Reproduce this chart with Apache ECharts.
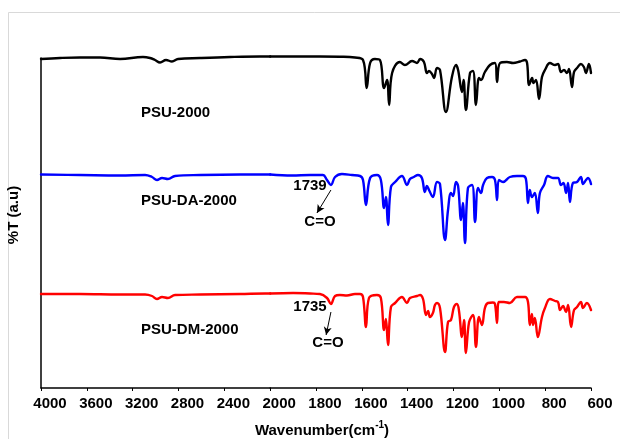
<!DOCTYPE html>
<html>
<head>
<meta charset="utf-8">
<script src="https://cdn.jsdelivr.net/npm/echarts@6/dist/echarts.min.js"></script>
<style>html,body{margin:0;padding:0;background:#fff}#c{width:620px;height:439px}</style>
</head>
<body>
<div id="c"></div>
<script>
// Wavenumber (cm-1) ticks: 4000-2000 step 400, 2000-600 step 200 (broken scale)
const ticksHigh = [4000, 3600, 3200, 2800, 2400, 2000];
const ticksLow = [2000, 1800, 1600, 1400, 1200, 1000, 800, 600];

// [wavenumber, %T (a.u.)]
const psu2000 = [
[4000,329],[3834,330],[3660,330.5],[3485,330.5],[3310,329],[3110,331],[3049,330],[3005,328],[2961,325.5],[2909,328],[2857,326.5],[2804,329],[2612,330],[2350,331],[2089,331.5],[2000,331.5],
[1914,331.5],[1783,331.5],[1696,331.3],[1630,330.5],[1595,328],[1579,300],[1564,325],[1543,329],[1521,328],[1503,300],[1490,308],[1481,283],[1468,315],[1434,326],[1412,323],[1381,327],[1359,325],[1346,329],[1329,326],[1316,315],[1307,317],[1294,314],[1285,310],[1272,320],[1259,318],[1233,276],[1207,311],[1189,323],[1180,318],[1163,296],[1156,308],[1146,278],[1128,315],[1115,317],[1102,283],[1089,310],[1080,308],[1063,316],[1041,323],[1019,325],[1010,306],[997,325],[967,326],[940,325],[910,326.5],[888,328],[879,325],[870,303],[857,310],[851,305],[840,308],[827,289],[814,311],[801,318],[779,325],[757,323],[744,324],[731,316],[718,318],[705,315],[696,319],[683,301],[674,316],[661,320],[644,324],[631,321],[622,315],[609,324],[600,315]
];
const psuDa2000 = [
[4000,213.5],[3660,213],[3310,212.5],[3092,213],[3031,211],[2988,208],[2944,210],[2892,209],[2830,212],[2612,213],[2263,213.5],[2045,213.5],[2000,213.5],
[1905,212.5],[1826,213],[1770,213],[1752,208],[1735,203],[1717,211],[1687,214],[1643,213],[1608,212],[1595,208],[1582,183],[1564,210],[1534,213],[1517,208],[1503,180],[1495,191],[1486,163],[1473,201],[1455,206],[1425,212],[1403,203],[1390,209],[1373,211],[1355,213],[1338,210],[1325,196],[1316,202],[1307,198],[1290,191],[1272,206],[1259,204],[1237,148],[1224,178],[1211,195],[1202,192],[1189,206],[1180,202],[1167,168],[1159,185],[1150,145],[1137,200],[1119,203],[1106,166],[1093,200],[1080,195],[1071,203],[1054,210],[1032,211],[1019,208],[1010,188],[1002,208],[984,206],[954,211],[923,212],[897,212],[884,209],[875,185],[867,198],[858,191],[845,195],[832,175],[823,195],[805,203],[788,212],[766,210],[744,210],[731,203],[720,205],[709,195],[700,205],[692,186],[679,205],[661,206],[644,211],[635,204],[622,208],[613,210],[600,204]
];
const psuDm2000 = [
[4000,94],[3660,94],[3310,93.5],[3092,93.5],[3031,92],[2988,89],[2944,91],[2892,90],[2830,93],[2612,93.5],[2263,94],[2045,94.5],[2000,94.5],
[1900,95],[1826,94.5],[1783,94],[1752,90],[1735,84],[1717,92],[1696,93],[1665,92.5],[1630,94],[1608,94],[1595,91],[1582,61],[1569,90],[1534,93],[1517,90],[1503,58],[1495,69],[1486,43],[1473,81],[1455,85],[1425,91],[1403,85],[1390,90],[1359,92],[1346,93],[1333,89],[1320,73],[1311,77],[1303,71],[1290,75],[1281,83],[1272,85],[1259,80],[1237,36],[1224,66],[1211,68],[1198,81],[1185,84],[1176,77],[1163,51],[1154,68],[1146,35],[1132,66],[1115,73],[1102,41],[1089,71],[1076,63],[1063,80],[1050,85],[1028,85.5],[1019,84],[1010,65],[1002,86],[980,86],[954,85],[923,91],[888,91],[875,86],[867,63],[858,74],[853,63],[845,70],[832,51],[814,71],[801,80],[779,89],[757,87],[744,86],[735,78],[722,82],[709,76],[700,83],[687,61],[674,78],[661,81],[644,86],[635,80],[618,85],[600,78]
];
const seriesNames = ['PSU-2000', 'PSU-DA-2000', 'PSU-DM-2000'];
const seriesColors = ['#000000', '#0000ff', '#ff0000'];
// carbonyl annotations: [peak wavenumber, arrow start value, arrow end wavenumber, arrow end value]
const daArrow = [1735, 198, 1796, 175];
const dmArrow = [1735, 76, 1756, 53];

const FONT = 'Arial, "Liberation Sans", sans-serif';
const chart = echarts.init(document.getElementById('c'));

const spectra = [psu2000, psuDa2000, psuDm2000];
const series = [];
spectra.forEach((d, i) => {
  const base = {type:'line', showSymbol:false, smooth:0.4, clip:false, silent:true,
    lineStyle:{color:seriesColors[i], width:2.4, join:'round', cap:'round'}, itemStyle:{color:seriesColors[i]}, name:seriesNames[i]};
  series.push(Object.assign({}, base, {xAxisIndex:0, yAxisIndex:0, data:d.filter(p => p[0] >= 2000)}));
  const right = Object.assign({}, base, {xAxisIndex:1, yAxisIndex:1, data:d.filter(p => p[0] <= 2000)});
  const arr = i === 1 ? daArrow : (i === 2 ? dmArrow : null);
  if (arr) {
    right.markLine = {silent:true, symbol:['none','arrow'], symbolSize:[6,8], label:{show:false},
      lineStyle:{color:'#000', width:1, type:'solid'},
      data:[[{coord:[arr[0], arr[1]]}, {coord:[arr[2], arr[3]]}]]};
  }
  series.push(right);
});

const axisCommon = {
  type:'value', inverse:true,
  axisLine:{show:true, lineStyle:{color:'#000', width:1.5}},
  axisTick:{show:true, length:3, lineStyle:{color:'#000'}},
  splitLine:{show:false},
};
const option = {
  animation:false,
  backgroundColor:'#fff',
  grid:[
    {left:41, top:58, width:229.2, bottom:51},
    {left:270.2, top:58, right:29, bottom:51}
  ],
  xAxis:[
    Object.assign({}, axisCommon, {gridIndex:0, min:ticksHigh[ticksHigh.length-1], max:ticksHigh[0], interval:400,
      axisLabel:{color:'#000', fontWeight:'bold', fontSize:15, fontFamily:FONT, margin:8, padding:[0,0,0,18],
        formatter:v => v === 2000 ? '' : String(v)}}),
    Object.assign({}, axisCommon, {gridIndex:1, min:ticksLow[ticksLow.length-1], max:ticksLow[0], interval:200,
      axisLabel:{color:'#000', fontWeight:'bold', fontSize:15, fontFamily:FONT, margin:8, padding:[0,0,0,18],
        showMinLabel:true, showMaxLabel:true, formatter:v => String(v)}})
  ],
  yAxis:[
    {type:'value', gridIndex:0, min:0, max:330, axisLine:{show:true, lineStyle:{color:'#000', width:1.5}},
      axisTick:{show:false}, axisLabel:{show:false}, splitLine:{show:false}},
    {type:'value', gridIndex:1, min:0, max:330, show:false, splitLine:{show:false}}
  ],
  series:series
};
chart.setOption(option);

// text annotations
const ctx = document.createElement('canvas').getContext('2d');
function tw(text, size){ ctx.font = 'bold ' + size + 'px ' + FONT; return ctx.measureText(text).width; }
function txt(text, x, y, align, size, rot){
  return {type:'text', x:x, y:y, rotation:rot||0, silent:true,
    style:{text:text, font:'bold ' + (size||15) + 'px ' + FONT, fill:'#000',
      textAlign:align||'center', textVerticalAlign:'middle', align:align||'center', verticalAlign:'middle'}};
}
const xName1 = 'Wavenumber(cm', xSup = '-1', xName2 = ')';
const w1 = tw(xName1, 15), w2 = tw(xSup, 10), w3 = tw(xName2, 15);
const xStart = 322 - (w1 + w2 + w3) / 2;
chart.setOption({graphic:[
  {type:'rect', silent:true, shape:{x:8.5, y:12.5, width:700, height:600}, style:{fill:'none', stroke:'#d9d9d9', lineWidth:1}},
  txt(seriesNames[0], 141, 113, 'left'),
  txt(seriesNames[1], 141, 201, 'left'),
  txt(seriesNames[2], 141, 330, 'left'),
  txt('1739', 310, 186),
  txt('C=O', 320, 222),
  txt('1735', 310, 307),
  txt('C=O', 328, 343),
  txt(xName1, xStart, 431, 'left'),
  txt(xSup, xStart + w1, 425, 'left', 10),
  txt(xName2, xStart + w1 + w2, 431, 'left'),
  txt('%T (a.u)', 14, 215, 'center', 15, Math.PI/2)
]});
</script>
</body>
</html>
